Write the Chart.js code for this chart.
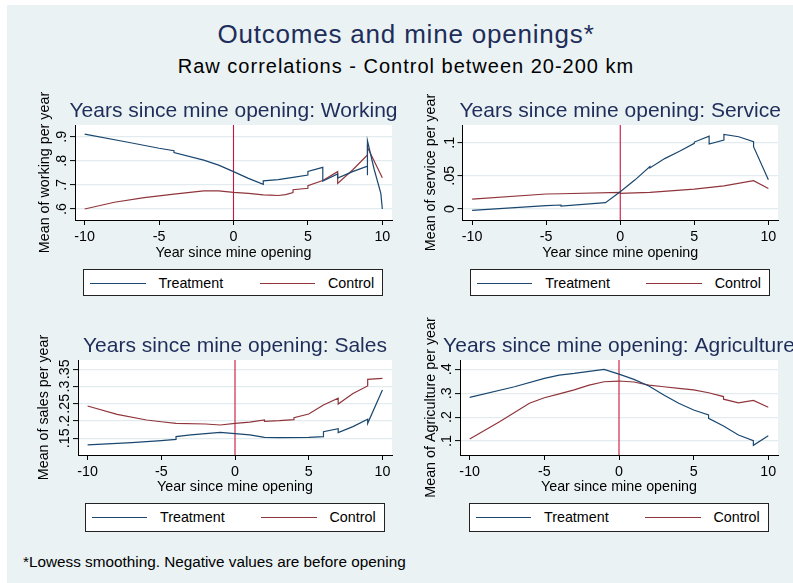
<!DOCTYPE html>
<html>
<head>
<meta charset="utf-8">
<script src="https://cdn.jsdelivr.net/npm/chart.js@4.4.0/dist/chart.umd.min.js"></script>
<style>
    body { margin: 0; width: 793px; height: 583px; background: #fff; overflow: hidden; position: relative;
           font-family: "Liberation Sans", Arial, sans-serif; }
    #page { position: absolute; left: 7px; top: 5px; width: 786px; height: 578px; background: rgb(234,242,243); }
    .abs { position: absolute; white-space: nowrap; }
    #mainTitle { left: 106px; width: 600px; top: 21px; text-align: center; font-size: 26px; line-height: 26px;
                 color: rgb(030,045,090); letter-spacing: 0.8px; }
    #subTitle { left: 106px; width: 600px; top: 56px; text-align: center; font-size: 20px; line-height: 20px;
                color: #000; letter-spacing: 1px; }
    #footNote { left: 23px; top: 554px; font-size: 15.3px; line-height: 16px; color: #000; }
    canvas { position: absolute; }
    .legend { position: absolute; width: 300px; background: #fff; border: 1px solid #222; box-sizing: border-box; }
    .lgLine { position: absolute; height: 0; border-top: 1.3px solid; top: 50%; }
    .lgText { position: absolute; top: 50%; transform: translateY(-52%); font-size: 14.3px; line-height: 16px; color: #000; white-space: nowrap; }
</style>
</head>
<body>
<div id="page"></div>
<div id="mainTitle" class="abs">Outcomes and mine openings*</div>
<div id="subTitle" class="abs">Raw correlations - Control between 20-200 km</div>
<div id="footNote" class="abs">*Lowess smoothing. Negative values are before opening</div>

<script>
'use strict';

//colors

var colorNavy = "rgb(026,071,111)";
var colorMaroon = "rgb(144,053,059)";
var colorRef = "rgb(200,020,060)";
var colorGrid = "rgb(226,236,238)";
var colorTitle = "rgb(030,045,090)";
var colorAxis = "rgb(000,000,000)";

var fontFamily = '"Liberation Sans", Arial, sans-serif';

//axis ticks and ranges

var xTicks = [-10, -5, 0, 5, 10];
var xRange = [-10.65, 10.65];
var refYear = 0;

var workingTicks = [0.6, 0.7, 0.8, 0.9];
var workingRange = [0.5544, 0.9485];
var serviceTicks = [0, 0.05, 0.1];
var serviceRange = [-0.0166, 0.1267];
var salesTicks = [0.15, 0.2, 0.25, 0.3, 0.35];
var salesRange = [0.1016, 0.377];
var agriTicks = [0.1, 0.2, 0.3, 0.4];
var agriRange = [0.0414, 0.439];

var seriesLabels = ["Treatment", "Control"];
var panelTitles = ["Years since mine opening: Working", "Years since mine opening: Service",
                   "Years since mine opening: Sales", "Years since mine opening: Agriculture"];
var yTitles = ["Mean of working per year", "Mean of service per year",
               "Mean of sales per year", "Mean of Agriculture per year"];
var xTitle = "Year since mine opening";

//working

var workTreatX = [-10, -7, -5, -4, -4, -2, -1, 0, 1, 2, 2, 3, 4, 5, 5, 6, 6, 7, 7, 8, 9, 9, 9, 9.45, 9.9, 10];
var workTreatY = [.911, .876, .852, .842, .834, .803, .782, .755, .727, .702, .717, .722, .731, .741, .756, .773, .716, .745, .728, .755, .778, .740, .883, .765, .665, .600];
var workCtrlX = [-10, -8, -6, -4, -2, -1, 0, 1, 2, 2.5, 3, 3.5, 4, 4, 5, 5, 6, 7, 7, 8, 9, 9, 10];
var workCtrlY = [.600, .628, .647, .662, .675, .675, .669, .665, .659, .658, .656, .660, .668, .680, .686, .697, .718, .755, .706, .762, .824, .856, .730];

//service

var servTreatX = [-10, -5, -4, -4, -1, 0, 1, 2, 2, 3, 4, 5, 5, 6, 6, 7, 7, 8, 9, 9, 10];
var servTreatY = [-.002, .005, .006, .0045, .0095, .026, .044, .064, .062, .076, .087, .099, .101, .110, .098, .104, .1126, .109, .1015, .094, .044];
var servCtrlX = [-10, -5, -4, 0, 0, 2, 5, 7, 9, 10];
var servCtrlY = [.015, .0226, .023, .025, .0235, .025, .030, .035, .0427, .031];

//sales

var salesTreatX = [-10, -7, -5, -4, -4, -3, -1, 0, 1, 2, 3, 5, 6, 6, 7, 7, 8, 9, 9, 10];
var salesTreatY = [.1307, .1374, .1432, .147, .1548, .1597, .1674, .1635, .1597, .1529, .152, .1529, .1548, .1693, .178, .1664, .1838, .205, .1935, .290];
var salesCtrlX = [-10, -8, -6, -5, -4, -2, -1, 0, 1, 2, 2, 3, 4, 4, 5, 6, 7, 7, 8, 9, 9, 10];
var salesCtrlY = [.2437, .2196, .203, .198, .1935, .1915, .1886, .1935, .197, .2035, .199, .201, .204, .210, .2205, .2466, .266, .2495, .280, .3017, .321, .324];

//agriculture

var agriTreatX = [-10, -7, -5, -4, -3, -1, 0, 1, 2, 3, 4, 5, 6, 6, 7, 8, 9, 9, 10];
var agriTreatY = [.2828, .327, .362, .376, .383, .400, .380, .358, .330, .2925, .2577, .2297, .2088, .1948, .1628, .1251, .1014, .0819, .1223];
var agriCtrlX = [-10, -8, -6, -5, -4, -3, -2, -1, 0, 1, 2, 3, 4, 5, 6, 7, 7, 8, 9, 10];
var agriCtrlY = [.108, .181, .258, .281, .297, .314, .334, .348, .351, .347, .334, .327, .320, .314, .302, .286, .275, .260, .270, .241];

//panel placement on the page (px)

var panelLayouts = [
    { canvas: { left: 0, top: 80, width: 400, height: 195 }, area: { left: 75, top: 125, right: 392, bottom: 220 }, yTitleX: 45, xTitleY: 252.7, legendTop: 269, legendH: 27 },
    { canvas: { left: 400, top: 80, width: 393, height: 195 }, area: { left: 462.5, top: 125, right: 778, bottom: 220 }, yTitleX: 431, xTitleY: 252.7, legendTop: 269, legendH: 27 },
    { canvas: { left: 0, top: 305, width: 400, height: 205 }, area: { left: 78, top: 360, right: 392, bottom: 455 }, yTitleX: 44, xTitleY: 486.7, legendTop: 502.5, legendH: 29 },
    { canvas: { left: 400, top: 305, width: 393, height: 205 }, area: { left: 460, top: 360, right: 778, bottom: 455 }, yTitleX: 431, xTitleY: 486.7, legendTop: 502.5, legendH: 29 }
];

var panelSeries = [
    { tx: workTreatX, ty: workTreatY, cx: workCtrlX, cy: workCtrlY, ticks: workingTicks, range: workingRange },
    { tx: servTreatX, ty: servTreatY, cx: servCtrlX, cy: servCtrlY, ticks: serviceTicks, range: serviceRange },
    { tx: salesTreatX, ty: salesTreatY, cx: salesCtrlX, cy: salesCtrlY, ticks: salesTicks, range: salesRange },
    { tx: agriTreatX, ty: agriTreatY, cx: agriCtrlX, cy: agriCtrlY, ticks: agriTicks, range: agriRange }
];

var axisFont = { family: fontFamily, size: 14.3, lineHeight: 1.2 };

function toPoints(xs, ys) {
    return xs.map(function (x, i) { return { x: x, y: ys[i] }; });
}

//stata style tick label: .6 instead of 0.6
function stataLabel(v) {
    if (v === 0) return "0";
    return String(+v.toFixed(4)).replace(/^0\./, ".").replace(/^-0\./, "-.");
}

//white plot region, reference line, rotated y labels and panel title
var stataPlugin = {
    id: 'stata',
    beforeDraw: function (chart) {
        var a = chart.chartArea;
        var ctx = chart.ctx;
        ctx.save();
        ctx.fillStyle = "#fff";
        ctx.fillRect(a.left, a.top, a.right - a.left, a.bottom - a.top);
        ctx.restore();
    },
    beforeDatasetsDraw: function (chart) {
        var a = chart.chartArea;
        var ctx = chart.ctx;
        var x = chart.scales.x.getPixelForValue(refYear);
        ctx.save();
        ctx.strokeStyle = colorRef;
        ctx.lineWidth = 1.1;
        ctx.beginPath();
        ctx.moveTo(x, a.top);
        ctx.lineTo(x, a.bottom);
        ctx.stroke();
        ctx.restore();
    },
    afterDraw: function (chart, args, opts) {
        var a = chart.chartArea;
        var ctx = chart.ctx;
        var yScale = chart.scales.y;

        //rotated y tick labels
        ctx.save();
        ctx.fillStyle = colorAxis;
        ctx.font = "14.3px " + fontFamily;
        ctx.textAlign = "center";
        ctx.textBaseline = "alphabetic";
        yScale.ticks.forEach(function (t) {
            var y = yScale.getPixelForValue(t.value);
            ctx.save();
            ctx.translate(a.left - 9, y);
            ctx.rotate(-Math.PI / 2);
            ctx.fillText(stataLabel(t.value), 0, 0);
            ctx.restore();
        });
        ctx.restore();

        //panel title
        ctx.save();
        ctx.fillStyle = colorTitle;
        ctx.font = "21px " + fontFamily;
        ctx.textAlign = "center";
        ctx.textBaseline = "alphabetic";
        ctx.fillText(opts.text, (a.left + a.right) / 2, a.top - 8.3);
        ctx.restore();
    }
};

function panelConfig(i) {
    var s = panelSeries[i];
    var L = panelLayouts[i];
    var c = L.canvas;
    var halfLine = axisFont.size * axisFont.lineHeight / 2;
    var xHeight = c.top + c.height - L.area.bottom;
    var yWidth = L.area.left - c.left;

    return {
        type: 'line',
        data: {
            datasets: [{
                label: seriesLabels[0],
                data: toPoints(s.tx, s.ty),
                borderColor: colorNavy,
                backgroundColor: colorNavy,
                borderWidth: 1.2,
                pointRadius: 0,
                tension: 0
            },
            {
                label: seriesLabels[1],
                data: toPoints(s.cx, s.cy),
                borderColor: colorMaroon,
                backgroundColor: colorMaroon,
                borderWidth: 1.2,
                pointRadius: 0,
                tension: 0
            }]
        },
        options: {
            responsive: false,
            animation: false,
            events: [],
            layout: {
                padding: { left: 0, bottom: 0, top: L.area.top - c.top, right: c.left + c.width - L.area.right }
            },
            plugins: {
                legend: { display: false },
                tooltip: { enabled: false },
                stata: { text: panelTitles[i] }
            },
            scales: {
                x: {
                    type: 'linear',
                    min: xRange[0],
                    max: xRange[1],
                    afterBuildTicks: function (scale) {
                        scale.ticks = xTicks.map(function (v) { return { value: v }; });
                    },
                    afterFit: function (scale) {
                        scale.height = xHeight;
                        scale.paddingLeft = 0;
                        scale.paddingRight = 0;
                    },
                    grid: { drawOnChartArea: false, drawTicks: true, tickLength: 5, tickColor: colorAxis, tickWidth: 1 },
                    border: { display: true, color: colorAxis, width: 1 },
                    ticks: { font: axisFont, color: colorAxis, padding: 3, autoSkip: false, maxRotation: 0, minRotation: 0 },
                    title: {
                        display: true,
                        text: xTitle,
                        color: colorAxis,
                        font: axisFont,
                        padding: { top: 0, bottom: (c.top + c.height - L.xTitleY) - halfLine }
                    }
                },
                y: {
                    type: 'linear',
                    min: s.range[0],
                    max: s.range[1],
                    afterBuildTicks: function (scale) {
                        scale.ticks = s.ticks.map(function (v) { return { value: v }; });
                    },
                    afterFit: function (scale) {
                        scale.width = yWidth;
                        scale.paddingTop = 0;
                        scale.paddingBottom = 0;
                    },
                    grid: { drawOnChartArea: true, color: colorGrid, lineWidth: 1.2, drawTicks: true, tickLength: 5, tickColor: colorAxis, tickWidth: 1 },
                    border: { display: true, color: colorAxis, width: 1 },
                    ticks: { display: false },
                    title: {
                        display: true,
                        text: yTitles[i],
                        color: colorAxis,
                        font: axisFont,
                        padding: { top: (L.yTitleX - c.left) - halfLine, bottom: 0 }
                    }
                }
            }
        },
        plugins: [stataPlugin]
    };
}

function buildLegend(chart, L) {
    var box = document.createElement("div");
    box.className = "legend";
    box.style.left = ((L.area.left + L.area.right) / 2 - 150.5) + "px";
    box.style.top = L.legendTop + "px";
    box.style.height = L.legendH + "px";

    chart.data.datasets.forEach(function (ds, k) {
        var line = document.createElement("span");
        line.className = "lgLine";
        line.style.left = (6 + k * 169.5) + "px";
        line.style.width = "55.5px";
        line.style.borderTopColor = ds.borderColor;
        box.appendChild(line);

        var txt = document.createElement("span");
        txt.className = "lgText";
        txt.style.left = (74.5 + k * 169.5) + "px";
        txt.textContent = ds.label;
        box.appendChild(txt);
    });
    document.body.appendChild(box);
}

window.onload = function () {
    Chart.defaults.font.family = fontFamily;

    for (var i = 0; i < 4; i++) {
        var L = panelLayouts[i];
        var canvas = document.createElement("canvas");
        canvas.width = L.canvas.width;
        canvas.height = L.canvas.height;
        canvas.style.left = L.canvas.left + "px";
        canvas.style.top = L.canvas.top + "px";
        canvas.style.width = L.canvas.width + "px";
        canvas.style.height = L.canvas.height + "px";
        document.body.appendChild(canvas);

        var chart = new Chart(canvas, panelConfig(i));
        buildLegend(chart, L);
    }
};
</script>
</body>
</html>
